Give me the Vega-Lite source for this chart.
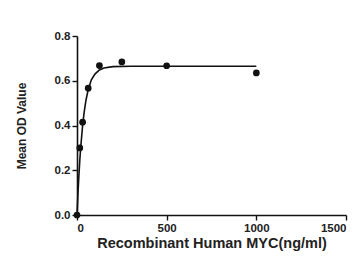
{
  "$schema": "https://vega.github.io/schema/vega-lite/v6.json",
  "width": 269,
  "height": 179,
  "autosize": {"type": "none"},
  "padding": {"left": 77, "top": 36, "right": 17, "bottom": 62},
  "background": "white",
  "config": {
    "view": {"stroke": null},
    "axis": {
      "labelFont": "Liberation Sans",
      "titleFont": "Liberation Sans",
      "labelFontWeight": "bold",
      "titleFontWeight": "bold",
      "labelFontSize": 11.5,
      "labelColor": "#222",
      "titleColor": "#222",
      "domainColor": "#111",
      "tickColor": "#111",
      "domainWidth": 1.6,
      "tickWidth": 1.4,
      "tickSize": 5,
      "grid": false
    }
  },
  "datasets": {
    "pts": [
      {"conc": 0, "od": 0.0},
      {"conc": 15.6, "od": 0.30},
      {"conc": 31.25, "od": 0.415},
      {"conc": 62.5, "od": 0.567},
      {"conc": 125, "od": 0.668},
      {"conc": 250, "od": 0.684},
      {"conc": 500, "od": 0.667},
      {"conc": 1000, "od": 0.635}
    ],
    "fit": [
      {"conc": 0, "od": 0.0},
      {"conc": 5, "od": 0.091},
      {"conc": 10, "od": 0.168},
      {"conc": 15.6, "od": 0.245},
      {"conc": 20, "od": 0.295},
      {"conc": 31.25, "od": 0.40},
      {"conc": 40, "od": 0.46},
      {"conc": 50, "od": 0.513},
      {"conc": 62.5, "od": 0.56},
      {"conc": 80, "od": 0.604},
      {"conc": 100, "od": 0.63},
      {"conc": 125, "od": 0.648},
      {"conc": 150, "od": 0.657},
      {"conc": 200, "od": 0.663},
      {"conc": 300, "od": 0.665},
      {"conc": 500, "od": 0.665},
      {"conc": 1000, "od": 0.665}
    ]
  },
  "layer": [
    {
      "data": {"name": "fit"},
      "mark": {"type": "line", "color": "#111", "strokeWidth": 1.6, "clip": false},
      "encoding": {
        "x": {"field": "conc", "type": "quantitative",
          "scale": {"domain": [0, 1500], "nice": false},
          "axis": {"values": [0, 500, 1000, 1500], "format": "d", "title": "Recombinant Human MYC(ng/ml)", "titleFontSize": 14.5, "labelPadding": 2, "titlePadding": 3}},
        "y": {"field": "od", "type": "quantitative",
          "scale": {"domain": [0, 0.8], "nice": false},
          "axis": {"values": [0, 0.2, 0.4, 0.6, 0.8], "format": ".1f", "title": "Mean OD Value", "titleFontSize": 12, "labelPadding": 2, "titlePadding": 26}}
      }
    },
    {
      "data": {"name": "pts"},
      "mark": {"type": "point", "filled": true, "color": "#111", "size": 45, "opacity": 1, "clip": false},
      "encoding": {
        "x": {"field": "conc", "type": "quantitative"},
        "y": {"field": "od", "type": "quantitative"}
      }
    }
  ]
}
